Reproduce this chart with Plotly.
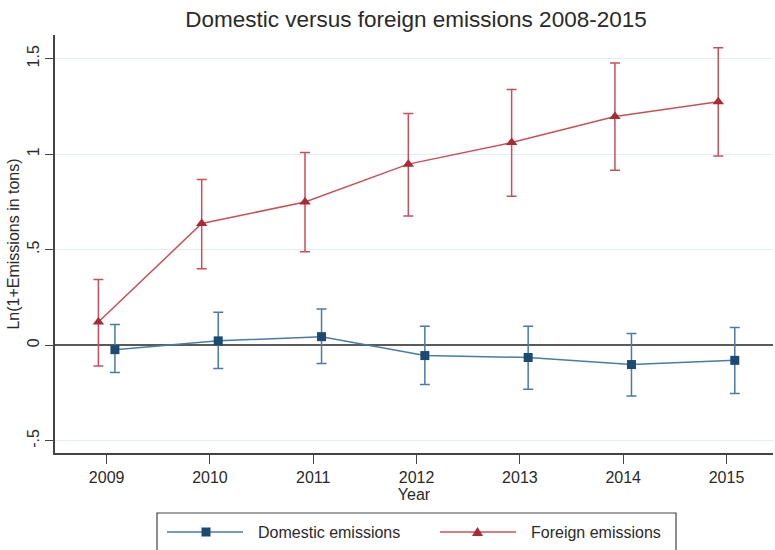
import plotly.graph_objects as go

# Survey years and estimated effects (log of 1 + emissions, tons)
years = [2009, 2010, 2011, 2012, 2013, 2014, 2015]

domestic = [-0.023, 0.023, 0.045, -0.054, -0.064, -0.101, -0.079]
domestic_hi = [0.108, 0.173, 0.190, 0.099, 0.099, 0.061, 0.093]
domestic_lo = [-0.143, -0.122, -0.096, -0.206, -0.230, -0.265, -0.253]

foreign = [0.122, 0.637, 0.750, 0.948, 1.061, 1.197, 1.274]
foreign_hi = [0.344, 0.867, 1.009, 1.213, 1.339, 1.478, 1.557]
foreign_lo = [-0.108, 0.401, 0.489, 0.677, 0.780, 0.916, 0.990]

y_ticks = [-0.5, 0, 0.5, 1, 1.5]
y_tick_labels = ["-.5", "0", ".5", "1", "1.5"]

W, H = 775, 550
FONT = "Liberation Sans, Arial, sans-serif"
TXT = "#2a2a2a"

BLUE_LINE = "#4a7ba6"
BLUE_MARK = "#1b4a74"
RED_LINE = "#c8505a"
RED_MARK = "#a82a33"


def px(x):
    return x / W


def py(y):
    return 1 - y / H


OFFSET = 0.08  # horizontal dodge so the two series' bars don't overlap

fig = go.Figure()

fig.add_trace(go.Scatter(
    x=[yr - OFFSET for yr in years], y=foreign, mode="lines+markers",
    name="Foreign emissions",
    line=dict(color=RED_LINE, width=1.5),
    marker=dict(symbol="triangle-up", size=10, color=RED_MARK),
    error_y=dict(type="data", symmetric=False,
                 array=[h - v for h, v in zip(foreign_hi, foreign)],
                 arrayminus=[v - l for v, l in zip(foreign, foreign_lo)],
                 color=RED_LINE, thickness=1.5, width=5),
    showlegend=False,
))

fig.add_trace(go.Scatter(
    x=[yr + OFFSET for yr in years], y=domestic, mode="lines+markers",
    name="Domestic emissions",
    line=dict(color=BLUE_LINE, width=1.5),
    marker=dict(symbol="square", size=9, color=BLUE_MARK),
    error_y=dict(type="data", symmetric=False,
                 array=[h - v for h, v in zip(domestic_hi, domestic)],
                 arrayminus=[v - l for v, l in zip(domestic, domestic_lo)],
                 color=BLUE_LINE, thickness=1.5, width=5),
    showlegend=False,
))

# Plot area in pixels
L, R, T, B = 55, 773, 35, 453

fig.update_layout(
    width=W, height=H,
    margin=dict(l=0, r=0, t=0, b=0, autoexpand=False),
    paper_bgcolor="white", plot_bgcolor="white",
    font=dict(family=FONT, size=16, color=TXT),
    xaxis=dict(
        domain=[px(L), px(R)], range=[2008.5, 2015.45],
        tickvals=years, ticks="outside", ticklen=9, tickwidth=1.3,
        tickcolor="#444", showline=True, linecolor="#444", linewidth=1.5,
        showgrid=False, zeroline=False, tickfont=dict(size=16, color=TXT),
        title=dict(text="Year", standoff=0, font=dict(size=16, color=TXT)),
        automargin=False,
    ),
    yaxis=dict(
        domain=[py(B), py(T)], range=[-0.564, 1.624],
        tickvals=y_ticks, ticktext=y_tick_labels, tickangle=-90,
        ticks="outside", ticklen=8, tickwidth=1.3, tickcolor="#444",
        showline=True, linecolor="#444", linewidth=1.5,
        showgrid=True, gridcolor="#e4eef1", gridwidth=1.3,
        zeroline=True, zerolinecolor="#5a5a5a", zerolinewidth=1.5,
        tickfont=dict(size=16, color=TXT),
        title=dict(text="Ln(1+Emissions in tons)", standoff=1,
                   font=dict(size=16, color=TXT)),
        automargin=False,
    ),
    title=dict(text="Domestic versus foreign emissions 2008-2015",
               x=px(416), xanchor="center", y=py(19), yanchor="middle",
               font=dict(size=22.5, color=TXT)),
)

# Legend drawn as a framed box below the plot
LEG_T, LEG_B, LEG_L, LEG_R = 513, 553, 157, 676
LEG_Y = 532
shapes = [
    dict(type="rect", xref="paper", yref="paper",
         x0=px(LEG_L), x1=px(LEG_R), y0=py(LEG_B), y1=py(LEG_T),
         line=dict(color="#444", width=1.2), fillcolor="white"),
    dict(type="line", xref="paper", yref="paper",
         x0=px(167), x1=px(243), y0=py(LEG_Y), y1=py(LEG_Y),
         line=dict(color=BLUE_LINE, width=1.5)),
    dict(type="rect", xref="paper", yref="paper",
         x0=px(201.5), x1=px(210.5), y0=py(LEG_Y + 4.5), y1=py(LEG_Y - 4.5),
         line=dict(width=0), fillcolor=BLUE_MARK),
    dict(type="line", xref="paper", yref="paper",
         x0=px(440), x1=px(516), y0=py(LEG_Y), y1=py(LEG_Y),
         line=dict(color=RED_LINE, width=1.5)),
    dict(type="path", xref="paper", yref="paper",
         path=(f"M {px(472)} {py(LEG_Y + 4)} L {px(483)} {py(LEG_Y + 4)} "
               f"L {px(477.5)} {py(LEG_Y - 5)} Z"),
         line=dict(width=0), fillcolor=RED_MARK),
]
fig.update_layout(shapes=shapes)

fig.add_annotation(text="Domestic emissions", xref="paper", yref="paper",
                   x=px(256), y=py(LEG_Y), xanchor="left", yanchor="middle",
                   showarrow=False, font=dict(size=16, color=TXT))
fig.add_annotation(text="Foreign emissions", xref="paper", yref="paper",
                   x=px(529), y=py(LEG_Y), xanchor="left", yanchor="middle",
                   showarrow=False, font=dict(size=16, color=TXT))

fig.write_html("out.html")
